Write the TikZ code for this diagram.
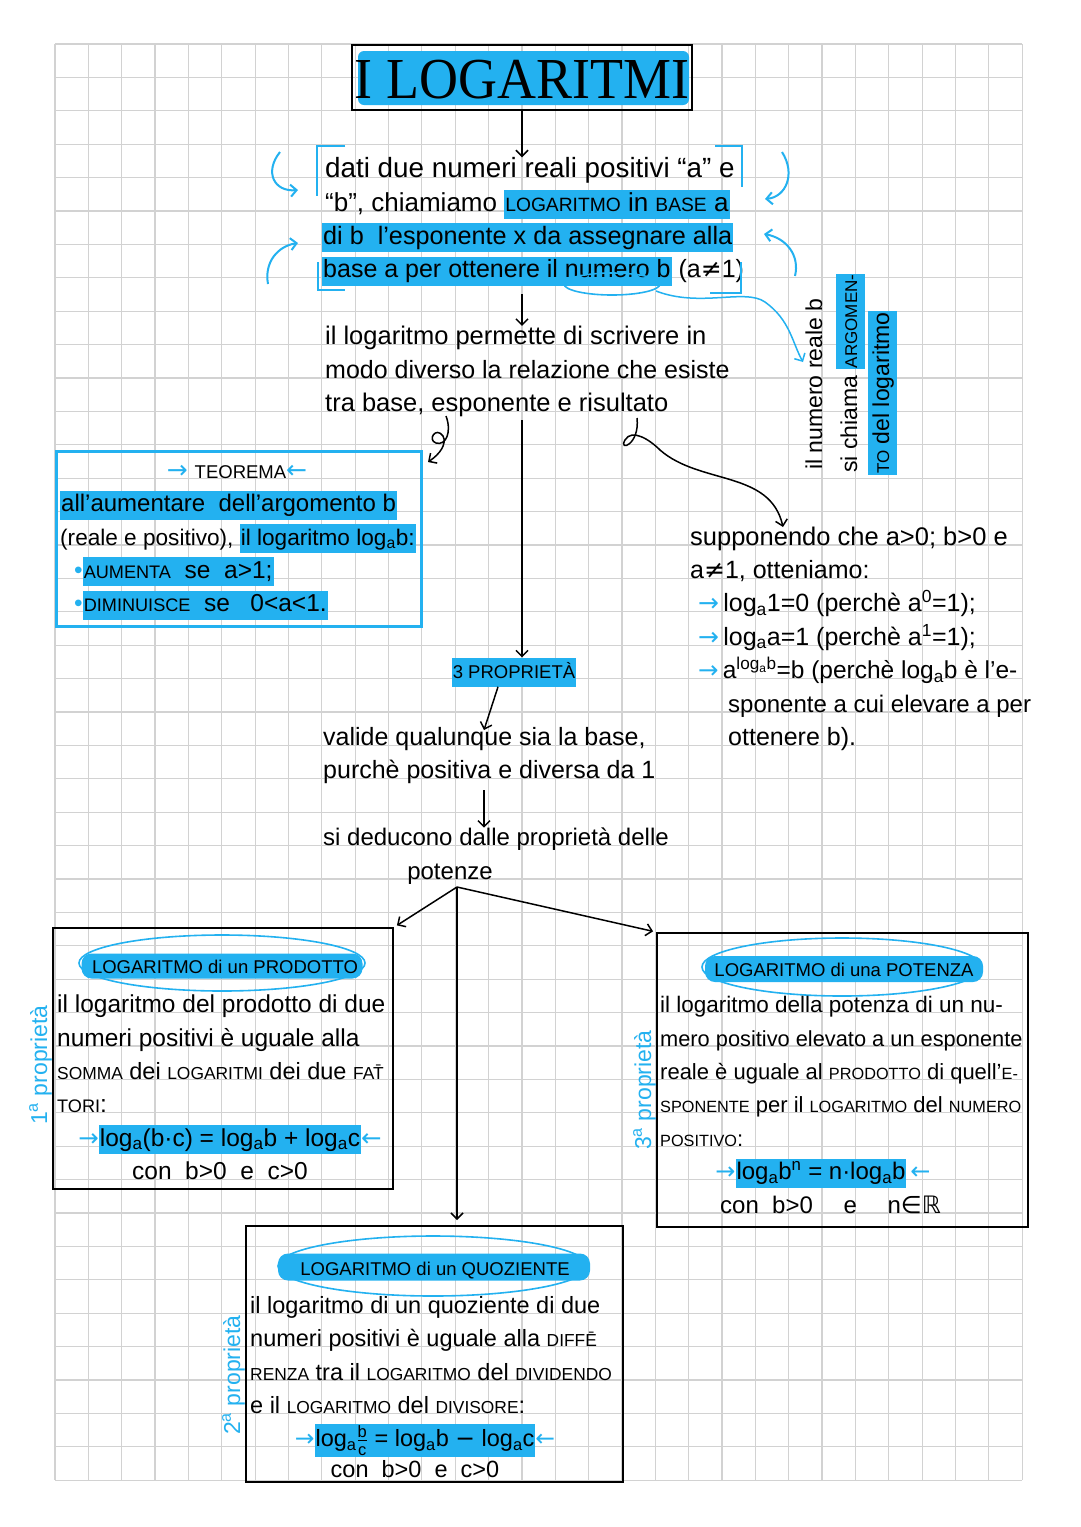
\documentclass[tikz,border=0pt]{standalone}
\usepackage{fontspec}
\usepackage{graphicx}
\usepackage{amsmath}
\setmainfont{Liberation Sans}
\newfontfamily\titlefont{Liberation Serif}
\newfontfamily\symf{DejaVu Sans}
\usetikzlibrary{arrows.meta}
\definecolor{hl}{HTML}{23B1F0}
\definecolor{gridc}{HTML}{D2D2D2}
\setlength{\fboxsep}{1pt}
\newcommand\hlb[1]{\colorbox{hl}{\rule[-7pt]{0pt}{27pt}#1}}
\newcommand\smcap[1]{\scalebox{0.74}{#1}}
\newcommand\lsub[1]{\textsubscript{#1}}
\newcommand\lsup[1]{\textsuperscript{#1}}
\newcommand\rarr{{\color{hl}\symf →}}
\newcommand\larr{{\color{hl}\symf ←}}
\newcommand\nq{{\symf ≠}}
\tikzset{
 linetxt/.style={anchor=base west, inner sep=0pt, font=\fontsize{#1}{33.4}\selectfont},
 ctxt/.style={anchor=base, inner sep=0pt, font=\fontsize{#1}{33.4}\selectfont},
 rtxt/.style={anchor=base west, inner sep=0pt, rotate=90, font=\fontsize{#1}{33.4}\selectfont},
 arr/.style={-{Straight Barb[length=6pt,width=12pt]}, line width=1.5pt, black},
 barr/.style={-{Straight Barb[length=6pt,width=12pt]}, line width=2pt, hl},
 boxk/.style={draw=black, line width=2.4pt, anchor=north west, inner sep=0pt},
 hlfill/.style={fill=hl, rounded corners=10pt, inner sep=0pt},
 ellip/.style={draw=hl, line width=1.6pt},
 brk/.style={draw=hl, line width=2.5pt},
}
\begin{document}
\begin{tikzpicture}[x=1pt,y=-1pt]
\fill[white] (0,0) rectangle (1080,1527);
\useasboundingbox (0,0) rectangle (1080,1527);
% grid
\foreach \i in {0,...,29} \draw[gridc, line width=1.2pt] ({55+\i*33.35},44) -- ({55+\i*33.35},1480.2);
\foreach \j in {0,...,43} \draw[gridc, line width=1.2pt] (55,{44+\j*33.4}) -- (1022.2,{44+\j*33.4});

% title
\fill[hl, rounded corners=6pt] (358,51) rectangle (689,105);
\node[anchor=base, inner sep=0pt, font=\titlefont\fontsize{58}{60}\selectfont] (titletext) at (522,98) {\scalebox{0.93}[1]{I LOGARITMI}};
\node[draw=black, line width=2.5pt, minimum width=340pt, minimum height=65pt, inner sep=0pt] (title) at (522,77.5) {};

% definition
\node[linetxt=27.8] (d1) at (325,177.6) {dati due numeri reali positivi “a” e};
\node[linetxt=26] (d2) at (325,211) {“b”, chiamiamo \hlb{\smcap{LOGARITMO} in \smcap{BASE} a}};
\node[linetxt=25.2] (d3) at (322,244.4) {\hlb{di b \ l'esponente x da assegnare alla}};
\node[linetxt=25] (d4) at (322,277.8) {\hlb{base a per ottenere il numero b} (a\nq1)};
% brackets
\draw[brk] (345,146) -- (317,146) -- (317,196);
\draw[brk] (715,146) -- (742,146) -- (742,187);
\draw[brk] (318,262) -- (318,290) -- (345,290);
\draw[brk] (741,262) -- (741,293) -- (710,293);
% curved blue arrows
\coordinate (lt) at (280,152);
\coordinate (lb) at (268,284);
\coordinate (rt) at (782,152);
\coordinate (rb) at (795,276);
\draw[barr] (lt) .. controls (264,172) and (274,192) .. (298,190);
\draw[barr] (lb) .. controls (264,262) and (278,246) .. (298,243);
\draw[barr] (rt) .. controls (796,174) and (786,197) .. (765,199);
\draw[barr] (rb) .. controls (800,255) and (786,238) .. (764,234);
% ellipse round "numero b"
\draw[ellip] (612,284) ellipse [x radius=48pt, y radius=11pt];
\coordinate (nbE) at (656,291);
\coordinate (nbT) at (803,362);
\draw[barr, line width=1.5pt] (nbE) .. controls (700,308) and (745,288) .. (765,302) .. controls (790,320) and (792,342) .. (nbT);

% arrows title -> def -> para
\draw[arr] (title.south) -- (title.south |- d1.north);
\coordinate (c2) at (522,294);
\node[linetxt=25.5] (p1) at (325,344.6) {il logaritmo permette di scrivere in};
\node[linetxt=25] (p2) at (325,378) {modo diverso la relazione che esiste};
\node[linetxt=25.5] (p3) at (325,411.4) {tra base, esponente e risultato};
\draw[arr] (c2) -- (c2 |- p1.north);

% rotated notes
\node[rtxt=23] (r1) at (822,470) {il numero reale b};
\node[rtxt=23] (r2) at (857,473) {si chiama \hlb{\smcap{ARGOMEN-}}};
\node[rtxt=23] (r3) at (889,475) {\hlb{\smcap{TO} del logaritmo}};

% teorema
\node[draw=hl, line width=3pt, minimum width=365pt, minimum height=175pt, anchor=north west, inner sep=0pt] (teobox) at (55,450) {};
\node[ctxt=25] (teo) at (237,478.2) {\rarr\ \smcap{TEOREMA}\larr};
\node[linetxt=24] (t1) at (60,511.6) {\hlb{all'aumentare \ dell'argomento b}};
\node[linetxt=22.6] (t2) at (60,545) {(reale e positivo), \hlb{il logaritmo log\lsub{a}b:}};
\node[linetxt=24.5] (t3) at (74,578.4) {{\color{hl}\textbullet}\hlb{\smcap{AUMENTA} \ se \ a>1;}};
\node[linetxt=24.5] (t4) at (74,611.8) {{\color{hl}\textbullet}\hlb{\smcap{DIMINUISCE} \ se \ \ 0<a<1.}};
\coordinate (e1) at (446,416);
\coordinate (e2) at (428,462);
\draw[arr] (e1) .. controls (452,432) and (446,446) .. (436,443) .. controls (427,440) and (436,426) .. (443,436) .. controls (447,444) and (440,454) .. (e2);

% supponendo
\node[linetxt=25.5] (s1) at (690,545) {supponendo che a>0; b>0 e};
\node[linetxt=25] (s2) at (690,578.4) {a\nq1, otteniamo:};
\node[linetxt=25] (s3) at (698,611.8) {\rarr\,log\lsub{a}1=0 (perchè a\lsup{0}=1);};
\node[linetxt=25] (s4) at (698,645.2) {\rarr\,log\lsub{a}a=1 (perchè a\lsup{1}=1);};
\node[linetxt=24.5] (s5) at (698,678.6) {\rarr\,a\lsup{log\lsub{a}b}=b (perchè log\lsub{a}b è l'e-};
\node[linetxt=24] (s6) at (728,712) {sponente a cui elevare a per};
\node[linetxt=25] (s7) at (728,745.4) {ottenere b).};
\coordinate (rs0) at (637,418);
\coordinate (rsT) at (783,527);
\draw[arr] (rs0) .. controls (640,445) and (618,452) .. (625,440) .. controls (632,428) and (650,440) .. (660,450) .. controls (700,485) and (770,470) .. (rsT);

% 3 proprieta
\node[ctxt=25] (tre) at (514,678.6) {\hlb{\smcap{3 PROPRIETÀ}}};
\coordinate (c3) at (522,420);
\draw[arr] (c3) -- (c3 |- tre.north);
\node[linetxt=25] (v1) at (323,745.4) {valide qualunque sia la base,};
\node[linetxt=25] (v2) at (323,778.8) {purchè positiva e diversa da 1};
\coordinate (c4) at (484,730);
\draw[arr] ([xshift=-16pt]tre.south) -- (c4);
\node[linetxt=24] (sd1) at (323,845.6) {si deducono dalle proprietà delle};
\node[ctxt=24] (sd2) at (450,879) {potenze};
\coordinate (c5) at (484,790);
\draw[arr] (c5) -- (c5 |- sd1.north);

% boxes
\node[boxk, minimum width=340pt, minimum height=261pt] (box1) at (52,927) {};
\node[boxk, minimum width=371pt, minimum height=294pt] (box3) at (656,932) {};
\node[boxk, minimum width=377pt, minimum height=256pt] (box2) at (245,1225) {};
\coordinate (br) at (457,887);
\draw[arr, shorten >=3pt] (br) -- (box1.north east);
\draw[arr, shorten >=3pt] (br) -- (box3.north west);
\draw[arr, shorten >=5pt] (br) -- (br |- box2.north);

% box 1
\node[hlfill, minimum width=281pt, minimum height=25pt] (h1) at (222,966) {};
\draw[ellip] (222,963) ellipse [x radius=143pt, y radius=28pt];
\node[ctxt=25] (e1t) at (225,973) {\smcap{LOGARITMO di un PRODOTTO}};
\node[linetxt=24.5] (b11) at (57,1012.6) {il logaritmo del prodotto di due};
\node[linetxt=24.5] (b12) at (57,1046) {numeri positivi è uguale alla};
\node[linetxt=23.5] (b13) at (57,1079.4) {\smcap{SOMMA} dei \smcap{LOGARITMI} dei due \smcap{FA\={T}}};
\node[linetxt=24.5] (b14) at (57,1112.8) {\smcap{TORI}:};
\node[ctxt=24.5] (b15) at (230,1146.2) {\rarr\hlb{log\lsub{a}(b·c) = log\lsub{a}b + log\lsub{a}c}\larr};
\node[ctxt=24.5] (b16) at (220,1179.6) {con \ b>0 \ e \ c>0};
\node[rtxt=23, text=hl] (lab1) at (47,1125) {1\lsup{a} proprietà};

% box 3
\node[hlfill, minimum width=278pt, minimum height=26pt] (h3) at (844,969) {};
\draw[ellip] (842,967) ellipse [x radius=140pt, y radius=29pt];
\node[ctxt=25] (e3t) at (844,976) {\smcap{LOGARITMO di una POTENZA}};
\node[linetxt=22.5] (b31) at (660,1012.6) {il logaritmo della potenza di un nu-};
\node[linetxt=21.8] (b32) at (660,1046) {mero positivo elevato a un esponente};
\node[linetxt=22] (b33) at (660,1079.4) {reale è uguale al \smcap{PRODOTTO} di quell'\smcap{E-}};
\node[linetxt=22] (b34) at (660,1112.8) {\smcap{SPONENTE} per il \smcap{LOGARITMO} del \smcap{NUMERO}};
\node[linetxt=22] (b35) at (660,1146.2) {\smcap{POSITIVO}:};
\node[ctxt=24] (b36) at (823,1179.6) {\rarr\hlb{log\lsub{a}b\lsup{n} = n·log\lsub{a}b}\,\larr};
\node[linetxt=24] (b37) at (720,1213) {con \ b>0 \quad e \quad n{\symf ∈ℝ}};
\node[rtxt=23, text=hl] (lab3) at (651,1150) {3\lsup{a} proprietà};

% box 2
\node[hlfill, minimum width=312pt, minimum height=27pt] (h2) at (434,1267) {};
\draw[ellip] (433,1266) ellipse [x radius=155pt, y radius=30pt];
\node[ctxt=25] (e2t) at (435,1275) {\smcap{LOGARITMO di un QUOZIENTE}};
\node[linetxt=23.5] (b21) at (250,1313.2) {il logaritmo di un quoziente di due};
\node[linetxt=23.5] (b22) at (250,1346.6) {numeri positivi è uguale alla \smcap{DIFF\={E}}};
\node[linetxt=23.5] (b23) at (250,1380) {\smcap{RENZA} tra il \smcap{LOGARITMO} del \smcap{DIVIDENDO}};
\node[linetxt=23.5] (b24) at (250,1413.4) {e il \smcap{LOGARITMO} del \smcap{DIVISORE}:};
\node[ctxt=23.5] (b25) at (425,1446.8) {\rarr\hlb{log\lsub{a}$\frac{\text{b}}{\text{c}}$ = log\lsub{a}b {\symf −} log\lsub{a}c}\larr};
\node[ctxt=23.5] (b26) at (415,1477) {con \ b>0 \ e \ c>0};
\node[rtxt=23, text=hl] (lab2) at (240,1435) {2\lsup{a} proprietà};
\end{tikzpicture}
\end{document}
